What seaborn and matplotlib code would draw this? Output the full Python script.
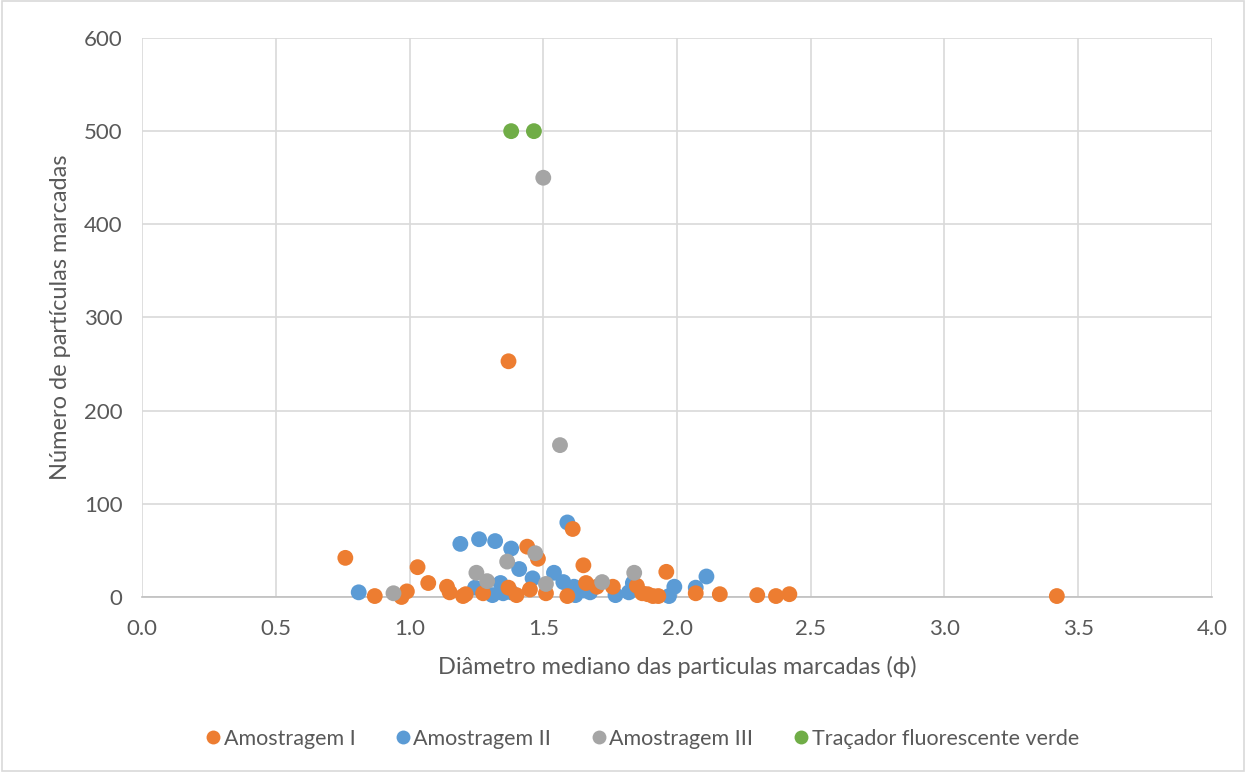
import numpy as np
import pandas as pd
import matplotlib
matplotlib.use("Agg")
import matplotlib.pyplot as plt
from matplotlib.patches import Rectangle
from matplotlib.lines import Line2D
import seaborn as sns

# Amostragem I
d_am1 = [0.76, 0.87, 0.97, 0.99, 1.03, 1.07, 1.14, 1.15, 1.20, 1.21, 1.275,
         1.37, 1.37, 1.40, 1.44, 1.45, 1.48, 1.51, 1.59, 1.61, 1.65, 1.66,
         1.70, 1.76, 1.85, 1.87, 1.89, 1.91, 1.93, 1.96, 2.07, 2.16, 2.30,
         2.37, 2.42, 3.42]
n_am1 = [42, 1, 0, 6, 32, 15, 11, 5, 1, 3, 4,
         253, 10, 2, 54, 8, 41, 4, 1, 73, 34, 15,
         11, 11, 12, 4, 3, 1, 1, 27, 4, 3, 2,
         1, 3, 1]

# Amostragem II
d_am2 = [0.81, 1.19, 1.26, 1.32, 1.38, 1.245, 1.31, 1.34, 1.35, 1.38, 1.41,
         1.46, 1.54, 1.575, 1.59, 1.615, 1.62, 1.65, 1.675, 1.77, 1.82, 1.835,
         1.97, 1.99, 2.07, 2.11]
n_am2 = [5, 57, 62, 60, 52, 10, 2, 15, 4, 5, 30,
         20, 26, 16, 80, 11, 2, 7, 5, 2, 5, 15,
         1, 11, 10, 22]

# Amostragem III
d_am3 = [0.94, 1.25, 1.29, 1.365, 1.47, 1.50, 1.51, 1.5625, 1.72, 1.84]
n_am3 = [4, 26, 17, 38, 47, 450, 14, 163, 16, 26]

# Traçador fluorescente verde
d_tr = [1.38, 1.465]
n_tr = [500, 500]

series_names = ["Amostragem I", "Amostragem II", "Amostragem III",
                "Traçador fluorescente verde"]
series_colors = ["#ED7D31", "#5B9BD5", "#A5A5A5", "#70AD47"]

x_ticks = [0.0, 0.5, 1.0, 1.5, 2.0, 2.5, 3.0, 3.5, 4.0]
y_ticks = [0, 100, 200, 300, 400, 500, 600]

frames = []
for name, xs, ys in zip(series_names,
                        [d_am1, d_am2, d_am3, d_tr],
                        [n_am1, n_am2, n_am3, n_tr]):
    frames.append(pd.DataFrame({"diam": xs, "count": ys, "serie": name}))
df = pd.concat(frames, ignore_index=True)
palette = dict(zip(series_names, series_colors))

sns.set_theme(style="white")
plt.rcParams["font.family"] = ["Lato", "DejaVu Sans"]

fig = plt.figure(figsize=(12.46, 7.72), dpi=100)
ax = fig.add_axes([0.114, 0.2267, 0.8587, 0.7241])

draw_order = ["Amostragem II", "Amostragem I", "Amostragem III",
              "Traçador fluorescente verde"]
for k, name in enumerate(draw_order):
    sub = df[df["serie"] == name]
    sns.scatterplot(data=sub, x="diam", y="count", color=palette[name],
                    s=130, linewidth=0, edgecolor="none", ax=ax,
                    legend=False, zorder=3 + k)
for coll in ax.collections:
    coll.set_clip_on(False)

ax.set_xlim(0, 4.0)
ax.set_ylim(0, 600)
ax.set_xticks(x_ticks)
ax.set_xticklabels([f"{v:.1f}" for v in x_ticks])
ax.set_yticks(y_ticks)
ax.set_yticklabels([str(v) for v in y_ticks])
ax.grid(True, color="#D9D9D9", linewidth=1.2, zorder=0)
ax.set_axisbelow(True)
for side in ["top", "right", "left"]:
    ax.spines[side].set_visible(False)
ax.spines["bottom"].set_color("#BFBFBF")
ax.spines["bottom"].set_linewidth(1.2)
ax.tick_params(axis="x", length=0, labelsize=16, colors="#595959", pad=16)
ax.tick_params(axis="y", length=0, labelsize=16, colors="#595959", pad=14)

ax.set_xlabel("Diâmetro mediano das particulas marcadas (ϕ)", fontsize=17,
              color="#595959", labelpad=12)
ax.set_ylabel("Número de partículas marcadas", fontsize=17,
              color="#595959", labelpad=9)

handles = [Line2D([0], [0], marker="o", linestyle="none", markersize=10,
                  markerfacecolor=c, markeredgecolor="none")
           for c in series_colors]
fig.legend(handles, series_names, loc="center", bbox_to_anchor=(0.514, 0.043),
           ncol=4, frameon=False, fontsize=15.5, handletextpad=0.0,
           handlelength=1.0, columnspacing=1.7, labelcolor="#595959")

fig.patches.append(Rectangle((0.0015, 0.0015), 0.997, 0.997,
                             transform=fig.transFigure, fill=False,
                             edgecolor="#D9D9D9", linewidth=1.2))

fig.savefig("out.png", dpi=100, facecolor="white")
